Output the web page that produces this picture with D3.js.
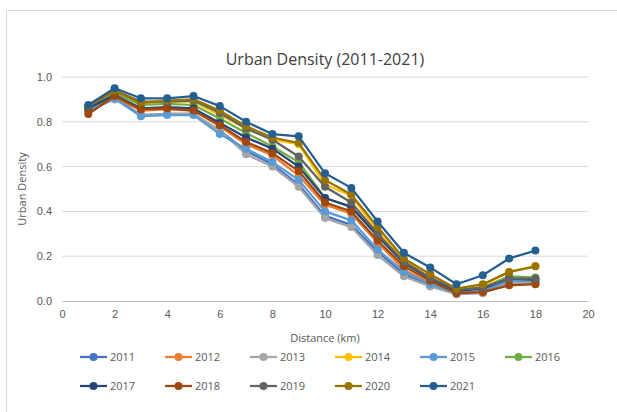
<!DOCTYPE html>
<html>
<head>
<meta charset="utf-8">
<script src="https://cdn.jsdelivr.net/npm/d3@7"></script>
<style>
body{margin:0;background:#fff;}
svg{font-family:"Open Sans",sans-serif;}
</style>
</head>
<body>
<div id="chart"></div>
<script>
const W = 617, H = 412;
const distances = [1,2,3,4,5,6,7,8,9,10,11,12,13,14,15,16,17,18];
const years = ["2011","2012","2013","2014","2015","2016","2017","2018","2019","2020","2021"];
const colors = ["#4472C4","#ED7D31","#A5A5A5","#FFC000","#5B9BD5","#70AD47","#264478","#9E480E","#636363","#997300","#255E91"];
const xTicks = [0,2,4,6,8,10,12,14,16,18,20];
const yTicks = [0,0.2,0.4,0.6,0.8,1.0];

const d2011 = [.86,.91,.83,.835,.835,.76,.67,.61,.52,.38,.34,.22,.12,.07,.035,.04,.075,.08];
const d2012 = [.85,.91,.85,.855,.85,.78,.70,.65,.56,.43,.39,.26,.14,.08,.035,.04,.075,.08];
const d2013 = [.85,.90,.83,.835,.835,.76,.655,.60,.51,.37,.33,.205,.11,.065,.03,.035,.08,.085];
const d2014 = [.86,.93,.88,.89,.89,.83,.77,.72,.70,.52,.47,.31,.18,.12,.05,.07,.13,.155];
const d2015 = [.85,.905,.825,.83,.83,.745,.68,.62,.54,.40,.36,.23,.13,.075,.035,.045,.09,.09];
const d2016 = [.86,.93,.875,.88,.875,.815,.75,.69,.62,.46,.42,.29,.17,.10,.045,.06,.11,.105];
const d2017 = [.86,.92,.86,.865,.86,.795,.73,.68,.60,.46,.42,.29,.17,.10,.045,.055,.10,.095];
const d2018 = [.835,.915,.855,.86,.85,.785,.71,.66,.58,.44,.40,.27,.155,.09,.035,.04,.07,.075];
const d2019 = [.87,.94,.89,.89,.895,.84,.77,.72,.645,.51,.44,.30,.175,.105,.05,.06,.10,.10];
const d2020 = [.87,.94,.885,.895,.90,.85,.78,.73,.705,.54,.475,.33,.19,.12,.055,.075,.13,.155];
const d2021 = [.875,.95,.905,.905,.915,.87,.80,.745,.735,.57,.505,.355,.215,.15,.075,.115,.19,.225];
const seriesValues = [d2011,d2012,d2013,d2014,d2015,d2016,d2017,d2018,d2019,d2020,d2021];

const plot = {left:62, right:588, top:77, bottom:301};

const svg = d3.select("#chart").append("svg")
  .attr("width", W).attr("height", H);

// outer chart frame
svg.append("rect")
  .attr("x", 6.5).attr("y", 10.5)
  .attr("width", 640).attr("height", 420)
  .attr("fill", "#fff").attr("stroke", "#d9d9d9");

const x = d3.scaleLinear().domain([0,20]).range([plot.left, plot.right]);
const y = d3.scaleLinear().domain([0,1]).range([plot.bottom, plot.top]);

// gridlines
svg.append("g")
  .selectAll("line")
  .data(yTicks.slice(1))
  .enter()
  .append("line")
  .attr("x1", plot.left).attr("x2", plot.right)
  .attr("y1", d => y(d)).attr("y2", d => y(d))
  .attr("stroke", "#d9d9d9").attr("stroke-width", 1);

// y axis labels
const yAxis = svg.append("g")
  .attr("transform", "translate(" + plot.left + ",0)")
  .call(d3.axisLeft(y).tickValues(yTicks).tickFormat(d3.format(".1f")).tickSize(0).tickPadding(10));
yAxis.select(".domain").remove();
yAxis.selectAll("text").attr("fill", "#595959").style("font-size", "11px");

// x axis
const xAxis = svg.append("g")
  .attr("transform", "translate(0," + plot.bottom + ")")
  .call(d3.axisBottom(x).tickValues(xTicks).tickSize(0).tickPadding(9));
xAxis.select(".domain").attr("stroke", "#bfbfbf");
xAxis.selectAll("text").attr("fill", "#595959").style("font-size", "11px");

// lines and markers
const line = d3.line()
  .x((d, i) => x(distances[i]))
  .y(d => y(d));

seriesValues.forEach((vals, s) => {
  const g = svg.append("g");
  g.append("path")
    .datum(vals)
    .attr("d", line)
    .attr("fill", "none")
    .attr("stroke", colors[s])
    .attr("stroke-width", 2.25)
    .attr("stroke-linejoin", "round");
  g.selectAll("circle")
    .data(vals)
    .enter()
    .append("circle")
    .attr("cx", (d, i) => x(distances[i]))
    .attr("cy", d => y(d))
    .attr("r", 4)
    .attr("fill", colors[s]);
});

// title
svg.append("text")
  .attr("x", (plot.left + plot.right) / 2)
  .attr("y", 65)
  .attr("text-anchor", "middle")
  .attr("fill", "#404040")
  .style("font-size", "16px")
  .text("Urban Density (2011-2021)");

// axis titles
svg.append("text")
  .attr("x", (plot.left + plot.right) / 2)
  .attr("y", 342)
  .attr("text-anchor", "middle")
  .attr("fill", "#595959")
  .style("font-size", "11px")
  .text("Distance (km)");

svg.append("text")
  .attr("transform", "translate(26," + ((plot.top + plot.bottom) / 2) + ") rotate(-90)")
  .attr("text-anchor", "middle")
  .attr("fill", "#595959")
  .style("font-size", "11px")
  .text("Urban Density");

// legend
const legend = svg.append("g");
years.forEach((yr, i) => {
  const col = i % 6, row = Math.floor(i / 6);
  const lx = 80 + col * 85, ly = 357 + row * 29;
  const item = legend.append("g").attr("transform", "translate(" + lx + "," + ly + ")");
  item.append("line")
    .attr("x1", 0).attr("x2", 27).attr("y1", 0).attr("y2", 0)
    .attr("stroke", colors[i]).attr("stroke-width", 2.25);
  item.append("circle")
    .attr("cx", 13.5).attr("cy", 0).attr("r", 4).attr("fill", colors[i]);
  item.append("text")
    .attr("x", 30).attr("y", 4)
    .attr("fill", "#595959")
    .style("font-size", "11px")
    .text(yr);
});
</script>
</body>
</html>
